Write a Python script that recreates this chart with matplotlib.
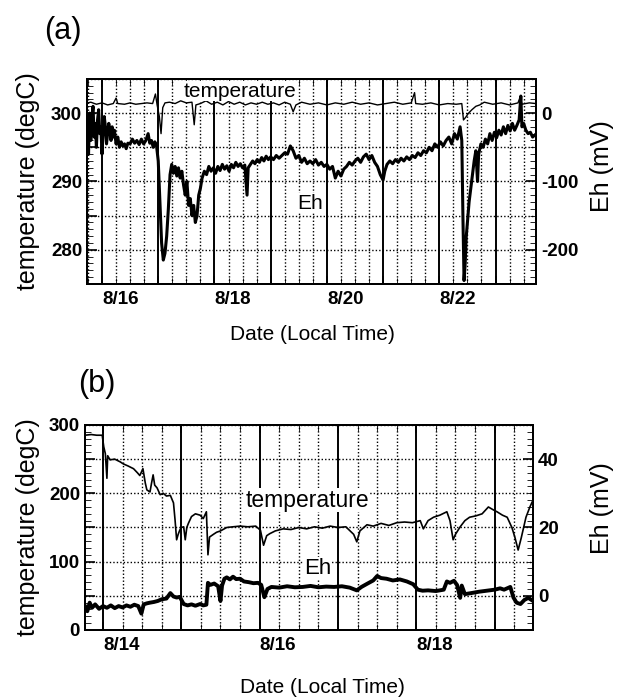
import matplotlib
matplotlib.use("Agg")
import matplotlib.pyplot as plt
from matplotlib.ticker import FixedLocator, MultipleLocator, FuncFormatter

plt.rcParams['font.family'] = ['Liberation Sans', 'DejaVu Sans']
plt.rcParams['axes.unicode_minus'] = False

# ---- panel (a): time in days of August (local time) ----
a_temp_t = [15.74, 15.80, 15.90, 16.00, 16.10, 16.20, 16.25, 16.28, 16.40, 16.50,
            16.60, 16.70, 16.80, 16.90, 16.95, 16.98, 17.02, 17.05, 17.08, 17.12,
            17.20, 17.30, 17.40, 17.50, 17.60, 17.64, 17.67, 17.75, 17.85, 17.95,
            18.05, 18.15, 18.25, 18.35, 18.45, 18.55, 18.65, 18.75, 18.85, 18.95,
            19.05, 19.15, 19.25, 19.35, 19.40, 19.45, 19.55, 19.70, 19.85, 20.00,
            20.15, 20.30, 20.45, 20.60, 20.75, 20.90, 21.05, 21.20, 21.35, 21.50,
            21.56, 21.58, 21.70, 21.85, 22.00, 22.15, 22.30, 22.40, 22.43, 22.47,
            22.52, 22.58, 22.65, 22.72, 22.80, 22.95, 23.10, 23.25, 23.40, 23.44,
            23.47, 23.60, 23.72]
a_temp = [301.5, 301.6, 301.3, 301.5, 301.2, 301.4, 302.2, 301.4, 301.3, 301.5,
          301.3, 301.4, 301.5, 301.4, 302.8, 301.2, 299.5, 297.0, 300.8, 301.5,
          301.6, 301.4, 301.8, 301.5, 301.6, 298.3, 301.2, 301.4, 301.8, 301.3,
          301.6, 301.2, 301.7, 301.3, 301.6, 301.2, 301.5, 301.3, 301.6, 301.3,
          301.5, 301.2, 301.6, 301.3, 300.2, 301.2, 301.6, 301.3, 301.5, 301.2,
          301.5, 301.3, 301.6, 301.3, 301.5, 301.2, 301.4, 301.6, 301.3, 301.5,
          303.0, 301.4, 301.3, 301.5, 301.2, 301.4, 301.3, 301.4, 299.0, 299.4,
          300.0, 300.5, 301.0, 301.2, 301.6, 301.3, 301.5, 301.2, 301.5, 302.4,
          301.3, 301.5, 301.4]

a_eh_t = [15.74, 15.76, 15.78, 15.80, 15.82, 15.84, 15.86, 15.88, 15.90, 15.92,
          15.94, 15.96, 15.98, 16.00, 16.02, 16.04, 16.06, 16.08, 16.10, 16.12,
          16.14, 16.16, 16.18, 16.20, 16.22, 16.25, 16.28, 16.31, 16.34, 16.37,
          16.40, 16.43, 16.46, 16.50, 16.54, 16.58, 16.62, 16.66, 16.70, 16.74,
          16.78, 16.82, 16.85, 16.88, 16.91, 16.94, 16.97, 17.00, 17.03, 17.06,
          17.09, 17.12, 17.15, 17.18, 17.21, 17.24, 17.27, 17.30, 17.33, 17.36,
          17.39, 17.42, 17.45, 17.48, 17.51, 17.54, 17.57, 17.60, 17.63, 17.66,
          17.69, 17.72, 17.75, 17.78, 17.82, 17.86, 17.90, 17.94, 17.98, 18.02,
          18.06, 18.10, 18.14, 18.18, 18.22, 18.26, 18.30, 18.34, 18.38, 18.42,
          18.46, 18.50, 18.54, 18.58, 18.60, 18.64, 18.68, 18.72, 18.76, 18.80,
          18.84, 18.88, 18.92, 18.96, 19.00, 19.05, 19.10, 19.15, 19.20, 19.25,
          19.30, 19.35, 19.40, 19.45, 19.50, 19.55, 19.60, 19.65, 19.70, 19.75,
          19.80, 19.85, 19.90, 19.95, 20.00, 20.05, 20.10, 20.15, 20.20, 20.25,
          20.30, 20.35, 20.40, 20.45, 20.50, 20.55, 20.60, 20.65, 20.70, 20.75,
          20.80, 20.85, 20.90, 20.95, 21.00, 21.03, 21.07, 21.12, 21.17, 21.22,
          21.27, 21.32, 21.37, 21.42, 21.47, 21.52, 21.57, 21.62, 21.67, 21.72,
          21.77, 21.82, 21.87, 21.92, 21.97, 22.02, 22.07, 22.12, 22.17, 22.22,
          22.27, 22.32, 22.37, 22.40, 22.42, 22.44, 22.46, 22.48, 22.50, 22.53,
          22.56, 22.59, 22.62, 22.65, 22.68, 22.70, 22.74, 22.78, 22.82, 22.86,
          22.90, 22.94, 22.98, 23.02, 23.06, 23.10, 23.14, 23.18, 23.22, 23.26,
          23.30, 23.34, 23.38, 23.42, 23.45, 23.47, 23.50, 23.54, 23.58, 23.62,
          23.66, 23.70]
a_eh = [-10, -60, 0, -40, -5, 10, -35, -15, -50, -10,
        5, -30, -20, -60, -25, -5, -20, -45, -30, -15,
        -25, -40, -20, -35, -25, -45, -35, -50, -42, -48,
        -45, -52, -44, -45, -38, -44, -40, -46, -38, -45,
        -40, -30, -44, -40, -50, -42, -48, -70, -130, -190,
        -215, -205, -180, -140, -90, -75, -88, -78, -92, -80,
        -95, -85, -105, -120, -100, -135, -125, -150, -135, -160,
        -150, -120, -110, -95, -85, -90, -78, -85, -80, -88,
        -78, -84, -75, -82, -77, -85, -75, -80, -72, -78,
        -74, -80, -76, -120, -80, -75, -70, -74, -68, -72,
        -65, -70, -63, -68, -64, -68, -62, -66, -62, -58,
        -60, -48, -55, -66, -62, -72, -66, -74, -70, -74,
        -68, -76, -72, -78, -75, -82, -78, -95, -85, -92,
        -82, -78, -72, -76, -70, -66, -72, -64, -60, -68,
        -62, -72, -78, -90, -98, -85, -75, -70, -74, -68,
        -72, -66, -70, -64, -68, -62, -65, -58, -62, -55,
        -58, -50, -55, -45, -50, -42, -48, -40, -35, -45,
        -30, -38, -20, -40, -150, -245, -220, -180, -160, -130,
        -110, -90, -70, -55, -100, -60, -45, -50, -38, -45,
        -30, -40, -28, -36, -25, -32, -20, -30, -18, -26,
        -15, -25, -18, -10, 25, -20, -15, -25, -30, -28,
        -35, -32]

# ---- panel (b) ----
b_temp_t = [13.77, 13.85, 13.92, 13.99, 14.01, 14.03, 14.05, 14.06, 14.09, 14.15,
            14.22, 14.26, 14.32, 14.39, 14.44, 14.47, 14.51, 14.54, 14.56, 14.60,
            14.62, 14.64, 14.66, 14.69, 14.73, 14.77, 14.81, 14.86, 14.90, 14.92,
            14.94, 14.96, 14.98, 15.00, 15.03, 15.05, 15.07, 15.09, 15.13, 15.18,
            15.24, 15.28, 15.32, 15.34, 15.36, 15.41, 15.45, 15.50, 15.58, 15.66,
            15.75, 15.85, 15.95, 16.01, 16.05, 16.09, 16.13, 16.20, 16.30, 16.40,
            16.50, 16.60, 16.70, 16.80, 16.90, 17.00, 17.10, 17.20, 17.24, 17.28,
            17.37, 17.45, 17.55, 17.65, 17.75, 17.85, 17.95, 18.05, 18.09, 18.15,
            18.22, 18.30, 18.39, 18.43, 18.47, 18.50, 18.56, 18.62, 18.68, 18.76,
            18.84, 18.92, 18.98, 19.03, 19.10, 19.16, 19.22, 19.26, 19.30, 19.34,
            19.40, 19.45, 19.49]
b_temp = [285, 286, 285, 285, 268, 258, 222, 255, 249, 250,
          246, 243, 240, 236, 230, 226, 236, 215, 205, 202,
          215, 227, 212, 208, 198, 200, 196, 197, 186, 161,
          132, 140, 146, 150, 151, 132, 150, 156, 166, 170,
          168, 163, 173, 110, 136, 140, 143, 145, 150, 151,
          152, 151, 152, 146, 124, 138, 141, 145, 148, 147,
          150, 148, 151, 149, 152, 150, 151, 140, 129, 145,
          154, 152, 156, 153, 157, 158, 157, 160, 148, 160,
          165, 168, 173, 160, 132, 140, 151, 160, 165, 167,
          170, 180, 176, 173, 168, 165, 150, 135, 117, 135,
          165, 180, 190]

b_eh_t = [13.77, 13.80, 13.83, 13.86, 13.90, 13.95, 14.00, 14.05, 14.10, 14.15,
          14.20, 14.25, 14.30, 14.35, 14.40, 14.45, 14.49, 14.52, 14.56, 14.60,
          14.65, 14.70, 14.75, 14.81, 14.86, 14.90, 14.94, 14.98, 15.03, 15.08,
          15.13, 15.18, 15.24, 15.28, 15.32, 15.34, 15.37, 15.42, 15.47, 15.50,
          15.52, 15.55, 15.58, 15.62, 15.66, 15.70, 15.75, 15.80, 15.86, 15.92,
          15.98, 16.02, 16.06, 16.10, 16.15, 16.25, 16.35, 16.45, 16.55, 16.65,
          16.75, 16.85, 16.95, 17.05, 17.15, 17.24, 17.30, 17.37, 17.45, 17.50,
          17.55, 17.62, 17.70, 17.79, 17.88, 17.96, 18.02, 18.08, 18.15, 18.25,
          18.35, 18.39, 18.43, 18.48, 18.52, 18.56, 18.58, 18.62, 18.70, 18.80,
          18.90, 19.00, 19.07, 19.12, 19.20, 19.24, 19.28, 19.33, 19.38, 19.43,
          19.49]
b_eh = [-3.0, -4.5, -2.0, -3.5, -2.5, -3.8, -3.0, -3.5, -2.8, -3.6,
        -3.0, -3.4, -2.8, -3.2, -2.6, -3.0, -5.2, -2.5, -2.2, -2.0,
        -1.8, -1.5, -1.0, -0.8, 0.8, -0.2, -0.5, -0.3, -2.4, -2.8,
        -2.5, -2.9, -2.4, -2.8, -2.6, 3.8, 3.2, 3.6, 2.8, -1.5,
        3.0, 5.0, 5.4, 4.8, 5.6, 4.9, 5.0, 4.2, 4.0, 3.7,
        3.8, 3.2, -0.4, 2.0, 2.6, 2.4, 2.8, 2.5, 2.6, 2.9,
        2.5, 2.7, 2.6, 2.8, 2.4, 1.6, 2.6, 3.5, 4.5, 5.8,
        5.2, 5.0, 4.5, 4.8, 4.2, 3.4, 1.8, 1.5, 1.6, 1.4,
        1.8, 4.2, 3.8, 4.4, 3.2, -0.6, 3.0, 0.5, 0.8, 1.2,
        1.5, 1.8, 2.2, 1.8, 2.6, -0.5, -2.0, -2.4, -1.2, -0.6,
        -1.5]


def day_label(x, pos):
    d = int(round(x))
    return "8/%d" % d if d % 2 == 0 else ""


def every(step):
    # label only the values that are multiples of step
    def fmt(v, pos):
        return "%d" % round(v) if abs(v / step - round(v / step)) < 1e-6 else ""
    return FuncFormatter(fmt)


def style_panel(ax, ax2, xlim, days, ylim, ygrid, ylab, ymin, y2lim, y2lab, y2min):
    ax.set_xlim(xlim)
    ax.set_ylim(ylim)
    ax2.set_ylim(y2lim)
    ax.xaxis.set_major_locator(FixedLocator(days))
    ax.xaxis.set_minor_locator(MultipleLocator(0.25))
    ax.xaxis.set_major_formatter(FuncFormatter(day_label))
    ax.yaxis.set_major_locator(MultipleLocator(ygrid))
    ax.yaxis.set_major_formatter(every(ylab))
    ax.yaxis.set_minor_locator(MultipleLocator(ymin))
    ax2.yaxis.set_major_locator(MultipleLocator(y2lab))
    ax2.yaxis.set_minor_locator(MultipleLocator(y2min))
    ax.tick_params(axis='x', which='both', direction='in', top=True, labelsize=13.5, pad=5)
    ax.tick_params(axis='x', which='major', length=6, width=1.2)
    ax.tick_params(axis='x', which='minor', length=4)
    ax.tick_params(axis='y', which='both', direction='in', labelsize=13.5)
    ax.tick_params(axis='y', which='major', length=7, width=1.2)
    ax.tick_params(axis='y', which='minor', length=4)
    ax2.tick_params(axis='y', which='both', direction='in', labelsize=13.5)
    ax2.tick_params(axis='y', which='major', length=7, width=1.2)
    ax2.tick_params(axis='y', which='minor', length=4)
    for lab in ax.get_xticklabels():
        lab.set_horizontalalignment('left')
    for lab in ax.get_xticklabels() + ax.get_yticklabels() + ax2.get_yticklabels():
        lab.set_fontweight('bold')
    # grid: solid at day boundaries, dotted every 6 h and along y
    ax.grid(True, which='major', axis='x', color='black', linestyle='-', linewidth=1.4)
    ax.grid(True, which='minor', axis='x', color='black', linestyle=(0, (1, 1.5)), linewidth=1.0)
    ax.grid(True, which='major', axis='y', color='black', linestyle=(0, (1, 1.5)), linewidth=1.0)
    ax.set_axisbelow(True)
    for s in list(ax.spines.values()) + list(ax2.spines.values()):
        s.set_linewidth(1.4)


fig = plt.figure(figsize=(6.18, 7.0), dpi=100)

# panel (a)
axa = fig.add_axes([0.1408, 0.5943, 0.7265, 0.2929])
axa2 = axa.twinx()
axa.plot(a_temp_t, a_temp, color='black', linewidth=1.0)
axa2.plot(a_eh_t, a_eh, color='black', linewidth=2.2)
style_panel(axa, axa2, (15.733, 23.72), list(range(16, 24)),
            (275, 305), 5, 10, 1, (-250, 50), 100, 10)

# panel (b)
axb = fig.add_axes([0.1375, 0.1, 0.725, 0.2929])
axb2 = axb.twinx()
axb.plot(b_temp_t, b_temp, color='black', linewidth=1.2)
axb2.plot(b_eh_t, b_eh, color='black', linewidth=2.8)
style_panel(axb, axb2, (13.77, 19.49), list(range(14, 20)),
            (0, 300), 50, 100, 10, (-10, 50), 20, 2)

txt = dict(fontsize=15, ha='center', va='center', zorder=10,
           bbox=dict(facecolor='white', edgecolor='none', pad=0.4))
axa2.text(0.341, 0.94, 'temperature', transform=axa2.transAxes, **txt)
axa2.text(0.497, 0.395, 'Eh', transform=axa2.transAxes, **txt)
axb2.text(0.496, 0.634, 'temperature', transform=axb2.transAxes, **dict(txt, fontsize=16.5))
axb2.text(0.52, 0.302, 'Eh', transform=axb2.transAxes, **dict(txt, fontsize=16))

fig.text(0.102, 0.955, '(a)', fontsize=22, ha='center', va='center')
fig.text(0.157, 0.452, '(b)', fontsize=22, ha='center', va='center')
fig.text(0.045, 0.741, 'temperature (degC)', fontsize=18, rotation=90, ha='center', va='center')
fig.text(0.045, 0.247, 'temperature (degC)', fontsize=18, rotation=90, ha='center', va='center')
fig.text(0.974, 0.762, 'Eh (mV)', fontsize=18, rotation=90, ha='center', va='center')
fig.text(0.974, 0.274, 'Eh (mV)', fontsize=18, rotation=90, ha='center', va='center')
fig.text(0.506, 0.522, 'Date (Local Time)', fontsize=15, ha='center', va='center')
fig.text(0.521, 0.018, 'Date (Local Time)', fontsize=15, ha='center', va='center')

fig.savefig('out.png', dpi=100)
